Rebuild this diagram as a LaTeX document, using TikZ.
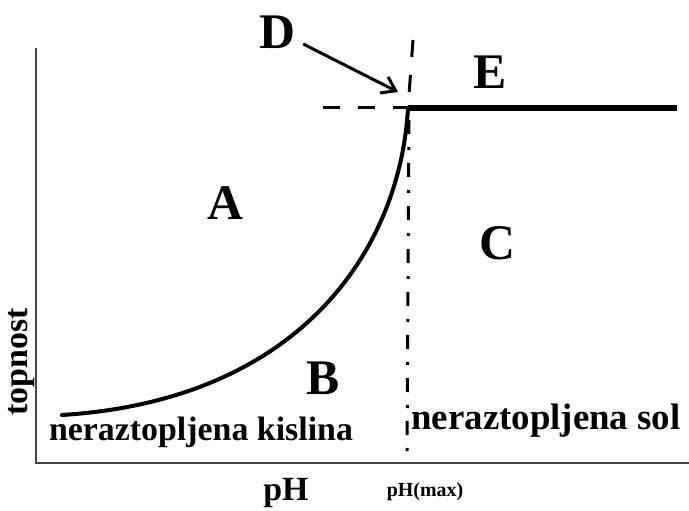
\documentclass[tikz,border=0pt]{standalone}
\usepackage{fontspec}
\setmainfont{Liberation Serif}
\usetikzlibrary{positioning,calc,arrows.meta}
\definecolor{Axis}{HTML}{444444}
\definecolor{Ink}{HTML}{000000}

\tikzset{
	region/.style={font=\fontsize{50}{50}\selectfont\bfseries, inner sep=0pt},
	phase/.style={font=\fontsize{34}{34}\selectfont\bfseries, inner sep=0pt},
	axislabel/.style={font=\fontsize{34}{34}\selectfont\bfseries, inner sep=0pt},
	guide/.style={line width=3bp, dash pattern=on 17bp off 18bp},
	limit/.style={line width=3bp, dash pattern=on 14bp off 13bp on 3bp off 13bp}
}

\begin{document}
\begin{tikzpicture}[x=1bp,y=-1bp]
	\useasboundingbox[fill=white] (0,0) rectangle (689,511);
	
	% axes
	\coordinate (origin) at (36,463);
	\coordinate (ytop) at (36,48);
	\coordinate (xend) at (689,463);
	\draw[Axis, line width=2bp] (ytop) -- (origin) -- (xend);
	
	% key points
	\coordinate (start) at (62,415);
	\coordinate (maxpt) at (408,108);
	\coordinate (vtop) at (413,40);
	\coordinate (vbot) at (407,456);
	\coordinate (hleft) at (323,108);
	\coordinate (hend) at (677,108);
	
	% guide lines
	\draw[guide] (hleft) -- (maxpt);
	\draw[guide] (vtop) -- (maxpt);
	\draw[limit] ($(maxpt)+(1,12)$) -- (vbot);
	
	% solubility curve
	\draw[line width=4bp, line cap=round] (start) .. controls (300,400) and (400,250) .. (maxpt);
	\draw[line width=6.5bp] (maxpt) -- (hend);
	
	% labels
	\node[region] (D) at (277,32) {D};
	\node[region] (E) at (490,72) {E};
	\node[region] (A) at (225,203) {A};
	\node[region] (C) at (497,243) {C};
	\node[region] (B) at (323,378) {B};
	\node[phase] (acid) at (201,432) {neraztopljena kislina};
	\node[phase, font=\fontsize{37}{37}\selectfont\bfseries] (salt) at (546,421) {neraztopljena sol};
	\node[axislabel, rotate=90] (ylab) at (22,362) {topnost};
	\node[axislabel] (xlab) at (286,493) {pH};
	\node[font=\fontsize{20}{20}\selectfont\bfseries, inner sep=0pt] (xmax) at (425,492) {pH(max)};
	
	\coordinate (Dtip) at (398,92);
	\draw[line width=3bp, -{Straight Barb[length=13bp,width=18bp,line width=3bp]}] ($(D.east)+(8,12)$) -- (Dtip);
\end{tikzpicture}
\end{document}
